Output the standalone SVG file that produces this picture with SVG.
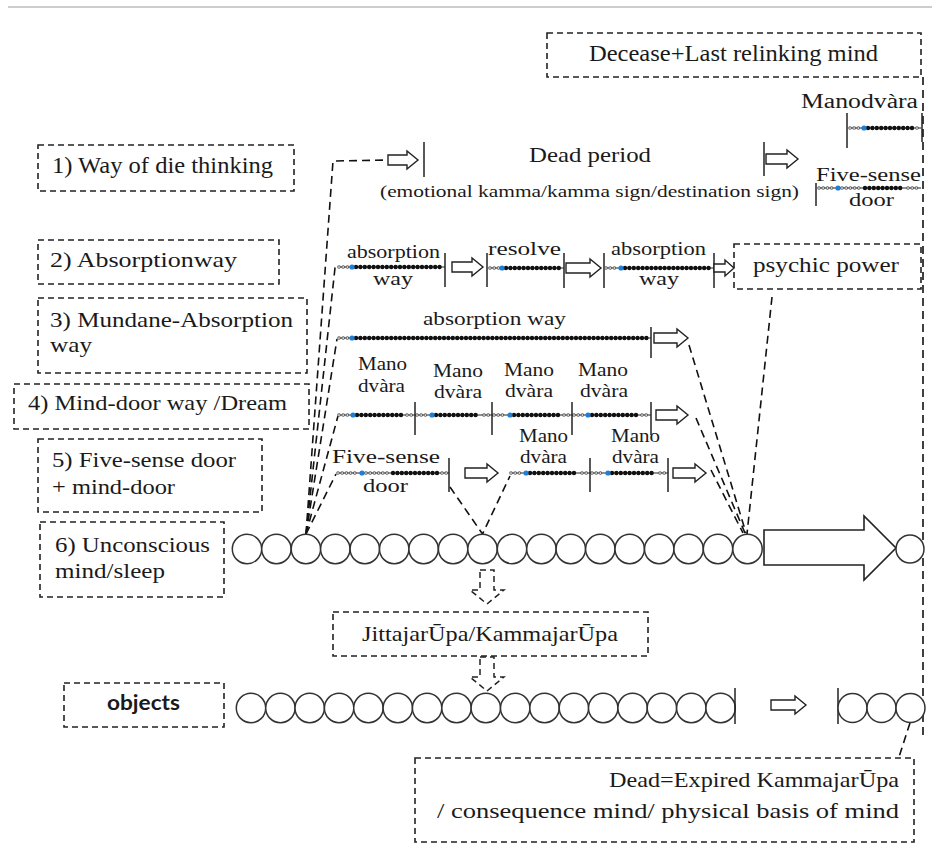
<svg xmlns="http://www.w3.org/2000/svg" width="932" height="851" viewBox="0 0 932 851">
<style>
.box{fill:none;stroke:#222;stroke-width:1.6;stroke-dasharray:6 4}
.t{font-family:"Liberation Serif","DejaVu Serif","Noto Serif",serif;fill:#1a1a1a}
.s{font-family:Lato,"Liberation Sans",sans-serif;fill:#1a1a1a;font-weight:bold}
.dash{fill:none;stroke:#111;stroke-width:1.6;stroke-dasharray:8 5}
.bar{stroke:#222;stroke-width:1.5}
.ha{fill:#fff;stroke:#222;stroke-width:1.4}
.hd{fill:none;stroke:#222;stroke-width:1.5;stroke-dasharray:6 4}
.c{fill:#fff;stroke:#333;stroke-width:1.5}
.thr{stroke:#222;stroke-width:1}
.ro{stroke:#555;stroke-width:3.6;stroke-dasharray:0 4.2;stroke-linecap:round}
.ri{stroke:#fff;stroke-width:1.7;stroke-dasharray:0 4.2;stroke-linecap:round}
.dt{stroke:#111;stroke-width:4.4;stroke-dasharray:0 4.4;stroke-linecap:round}
.bl{fill:#1e7fd6}
</style>
<rect width="932" height="851" fill="#fff"/>
<line x1="8" y1="7" x2="932" y2="7" stroke="#bdbdbd" stroke-width="1.5"/>

<g font-family="Liberation Serif, DejaVu Serif, serif">
<g id="n-decease"><rect class="box" x="547" y="33" width="374" height="44"/><text class="t" x="589" y="61" font-size="24" textLength="289" lengthAdjust="spacingAndGlyphs">Decease+Last relinking mind</text></g>
<g id="n-way1"><rect class="box" x="38" y="145" width="256" height="46"/><text class="t" x="52" y="173" font-size="23" textLength="221" lengthAdjust="spacingAndGlyphs">1) Way of die thinking</text></g>
<g id="n-way2"><rect class="box" x="38" y="240" width="241" height="44"/><text class="t" x="50" y="267" font-size="22" textLength="187" lengthAdjust="spacingAndGlyphs">2) Absorptionway</text></g>
<g id="n-way3"><rect class="box" x="38" y="298" width="269" height="75"/><text class="t" x="50" y="327" font-size="22" textLength="243" lengthAdjust="spacingAndGlyphs">3) Mundane-Absorption</text><text class="t" x="50" y="352" font-size="22" textLength="42" lengthAdjust="spacingAndGlyphs">way</text></g>
<g id="n-way4"><rect class="box" x="14" y="384" width="295" height="45"/><text class="t" x="28" y="410" font-size="22" textLength="259" lengthAdjust="spacingAndGlyphs">4) Mind-door way /Dream</text></g>
<g id="n-way5"><rect class="box" x="38" y="439" width="224" height="73"/><text class="t" x="52" y="467" font-size="22" textLength="184" lengthAdjust="spacingAndGlyphs">5) Five-sense door</text><text class="t" x="52" y="494" font-size="22" textLength="123" lengthAdjust="spacingAndGlyphs">+ mind-door</text></g>
<g id="n-way6"><rect class="box" x="40" y="522" width="184" height="75"/><text class="t" x="55" y="552" font-size="22" textLength="155" lengthAdjust="spacingAndGlyphs">6) Unconscious</text><text class="t" x="55" y="578" font-size="22" textLength="110" lengthAdjust="spacingAndGlyphs">mind/sleep</text></g>
<g id="n-psychic"><rect class="box" x="734" y="244" width="187" height="45"/><text class="t" x="753" y="272" font-size="22" textLength="146" lengthAdjust="spacingAndGlyphs">psychic power</text></g>
<g id="n-rupa"><rect class="box" x="333" y="612" width="315" height="44"/><text class="t" x="362" y="641" font-size="22" textLength="256" lengthAdjust="spacingAndGlyphs">JittajarŪpa/KammajarŪpa</text></g>
<g id="n-objects"><rect class="box" x="64" y="683" width="160" height="44"/><text class="s" x="107" y="710" font-size="20" textLength="73" lengthAdjust="spacingAndGlyphs">objects</text></g>
<g id="n-dead"><rect class="box" x="415" y="758" width="499" height="84"/><text class="t" x="609" y="787" font-size="22" textLength="290" lengthAdjust="spacingAndGlyphs">Dead=Expired KammajarŪpa</text><text class="t" x="437" y="818" font-size="22" textLength="462" lengthAdjust="spacingAndGlyphs">/ consequence mind/ physical basis of mind</text></g>

<g id="connectors">
<polyline class="dash" points="306,534 333,161 390,160"/>
<polyline class="dash" points="306,534 335,268 340,268"/>
<polyline class="dash" points="306,534 337,339"/>
<polyline class="dash" points="306,534 338,416"/>
<polyline class="dash" points="306,534 336,474"/>
<line class="dash" x1="772" y1="297" x2="747" y2="534"/>
<line class="dash" x1="689" y1="345" x2="746" y2="533"/>
<line class="dash" x1="696" y1="418" x2="745" y2="533"/>
<line class="dash" x1="711" y1="470" x2="743" y2="533"/>
<polyline class="dash" points="450,487 482.5,534 510,476"/>
<line class="dash" x1="923" y1="77" x2="923" y2="738"/>
<polyline class="dash" points="910,723 899,757"/>
<path class="hd" d="M480,570 H494 V590 H504 L487,604 L470,590 H480 Z"/>
<path class="hd" d="M480,657 H494 V677 H504 L487,691 L470,677 H480 Z"/>
</g>

<g id="row1">
<path class="ha" d="M388,155 H407 V151 L418,160 L407,169 V165 H388 Z"/>
<line class="bar" x1="424" y1="142" x2="424" y2="177"/>
<text class="t" x="529" y="162" font-size="22" textLength="122" lengthAdjust="spacingAndGlyphs">Dead period</text>
<text class="t" x="380" y="197" font-size="17" textLength="419" lengthAdjust="spacingAndGlyphs">(emotional kamma/kamma sign/destination sign)</text>
<line class="bar" x1="764" y1="142" x2="764" y2="176"/>
<path class="ha" d="M766,154 H787 V150 L798,159 L787,168 V164 H766 Z"/>
<text class="t" x="801" y="108" font-size="20" textLength="117" lengthAdjust="spacingAndGlyphs">Manodvàra</text>
<line class="bar" x1="847" y1="113" x2="847" y2="148"/>
<line class="bar" x1="922" y1="113" x2="922" y2="142"/>
<line class="thr" x1="849" y1="128" x2="921" y2="128"/>
<line class="ro" x1="850" y1="128" x2="861" y2="128"/><line class="ri" x1="850" y1="128" x2="861" y2="128"/>
<line class="dt" x1="868" y1="128" x2="914" y2="128"/>
<line class="ro" x1="917" y1="128" x2="921" y2="128"/><line class="ri" x1="917" y1="128" x2="921" y2="128"/>
<circle class="bl" cx="864" cy="128" r="2.6"/>
<text class="t" x="816" y="181" font-size="19" textLength="105" lengthAdjust="spacingAndGlyphs">Five-sense</text>
<text class="t" x="849" y="206" font-size="19" textLength="45" lengthAdjust="spacingAndGlyphs">door</text>
<line class="bar" x1="816" y1="183" x2="816" y2="206"/>
<line class="thr" x1="818" y1="188" x2="921" y2="188"/>
<line class="ro" x1="819" y1="188" x2="835" y2="188"/><line class="ri" x1="819" y1="188" x2="835" y2="188"/>
<line class="ro" x1="842" y1="188" x2="862" y2="188"/><line class="ri" x1="842" y1="188" x2="862" y2="188"/>
<line class="dt" x1="865" y1="188" x2="904" y2="188"/>
<line class="ro" x1="908" y1="188" x2="920" y2="188"/><line class="ri" x1="908" y1="188" x2="920" y2="188"/>
<circle class="bl" cx="838" cy="188" r="2.6"/>
</g>

<g id="row2">
<text class="t" x="347" y="258" font-size="18" textLength="93" lengthAdjust="spacingAndGlyphs">absorption</text>
<text class="t" x="373" y="285" font-size="18" textLength="40" lengthAdjust="spacingAndGlyphs">way</text>
<line class="thr" x1="338" y1="267" x2="445" y2="267"/>
<line class="ro" x1="339" y1="267" x2="349" y2="267"/><line class="ri" x1="339" y1="267" x2="349" y2="267"/>
<line class="dt" x1="356" y1="267" x2="444" y2="267"/>
<circle class="bl" cx="352" cy="267" r="2.6"/>
<line class="bar" x1="445" y1="253" x2="445" y2="287"/>
<path class="ha" d="M452,262 H472 V258 L483,267 L472,276 V272 H452 Z"/>
<line class="bar" x1="487" y1="253" x2="487" y2="287"/>
<text class="t" x="488" y="255" font-size="18" textLength="73" lengthAdjust="spacingAndGlyphs">resolve</text>
<line class="thr" x1="489" y1="268" x2="564" y2="268"/>
<line class="ro" x1="490" y1="268" x2="499" y2="268"/><line class="ri" x1="490" y1="268" x2="499" y2="268"/>
<line class="dt" x1="506" y1="268" x2="562" y2="268"/>
<circle class="bl" cx="502" cy="268" r="2.6"/>
<line class="bar" x1="564" y1="253" x2="564" y2="288"/>
<path class="ha" d="M566,263 H590 V259 L601,268 L590,277 V273 H566 Z"/>
<line class="bar" x1="604" y1="253" x2="604" y2="288"/>
<text class="t" x="611" y="255" font-size="18" textLength="95" lengthAdjust="spacingAndGlyphs">absorption</text>
<text class="t" x="639" y="285" font-size="18" textLength="40" lengthAdjust="spacingAndGlyphs">way</text>
<line class="thr" x1="605" y1="268" x2="714" y2="268"/>
<line class="ro" x1="606" y1="268" x2="617" y2="268"/><line class="ri" x1="606" y1="268" x2="617" y2="268"/>
<line class="dt" x1="625" y1="268" x2="712" y2="268"/>
<circle class="bl" cx="621" cy="268" r="2.6"/>
<line class="bar" x1="714" y1="253" x2="714" y2="288"/>
<path class="ha" d="M714,264 H725 V260 L734,268 L725,276 V272 H714 Z"/>
</g>

<g id="row3">
<text class="t" x="423" y="325" font-size="19" textLength="143" lengthAdjust="spacingAndGlyphs">absorption way</text>
<line class="thr" x1="338" y1="338" x2="651" y2="338"/>
<line class="ro" x1="339" y1="338" x2="349" y2="338"/><line class="ri" x1="339" y1="338" x2="349" y2="338"/>
<line class="dt" x1="356" y1="338" x2="649" y2="338"/>
<circle class="bl" cx="352" cy="338" r="2.6"/>
<line class="bar" x1="651" y1="327" x2="651" y2="358"/>
<path class="ha" d="M654,333 H677 V329 L688,338 L677,347 V343 H654 Z"/>
</g>

<g id="row4">
<text class="t" x="358" y="370" font-size="19" textLength="49" lengthAdjust="spacingAndGlyphs">Mano</text>
<text class="t" x="358" y="392" font-size="19" textLength="47" lengthAdjust="spacingAndGlyphs">dvàra</text>
<text class="t" x="433" y="377" font-size="19" textLength="50" lengthAdjust="spacingAndGlyphs">Mano</text>
<text class="t" x="434" y="398" font-size="19" textLength="48" lengthAdjust="spacingAndGlyphs">dvàra</text>
<text class="t" x="504" y="376" font-size="19" textLength="50" lengthAdjust="spacingAndGlyphs">Mano</text>
<text class="t" x="505" y="397" font-size="19" textLength="48" lengthAdjust="spacingAndGlyphs">dvàra</text>
<text class="t" x="578" y="376" font-size="19" textLength="50" lengthAdjust="spacingAndGlyphs">Mano</text>
<text class="t" x="580" y="397" font-size="19" textLength="48" lengthAdjust="spacingAndGlyphs">dvàra</text>
<line class="thr" x1="338" y1="415" x2="651" y2="415"/>
<line class="ro" x1="339" y1="415" x2="349" y2="415"/><line class="ri" x1="339" y1="415" x2="349" y2="415"/>
<line class="dt" x1="357" y1="415" x2="403" y2="415"/>
<line class="ro" x1="407" y1="415" x2="413" y2="415"/><line class="ri" x1="407" y1="415" x2="413" y2="415"/>
<line class="ro" x1="417" y1="415" x2="428" y2="415"/><line class="ri" x1="417" y1="415" x2="428" y2="415"/>
<line class="dt" x1="436" y1="415" x2="480" y2="415"/>
<line class="ro" x1="484" y1="415" x2="490" y2="415"/><line class="ri" x1="484" y1="415" x2="490" y2="415"/>
<line class="ro" x1="494" y1="415" x2="506" y2="415"/><line class="ri" x1="494" y1="415" x2="506" y2="415"/>
<line class="dt" x1="514" y1="415" x2="560" y2="415"/>
<line class="ro" x1="564" y1="415" x2="570" y2="415"/><line class="ri" x1="564" y1="415" x2="570" y2="415"/>
<line class="ro" x1="574" y1="415" x2="585" y2="415"/><line class="ri" x1="574" y1="415" x2="585" y2="415"/>
<line class="dt" x1="592" y1="415" x2="638" y2="415"/>
<line class="ro" x1="642" y1="415" x2="650" y2="415"/><line class="ri" x1="642" y1="415" x2="650" y2="415"/>
<circle class="bl" cx="353" cy="415" r="2.6"/>
<circle class="bl" cx="432" cy="415" r="2.6"/>
<circle class="bl" cx="510" cy="415" r="2.6"/>
<circle class="bl" cx="588" cy="415" r="2.6"/>
<line class="bar" x1="415" y1="402" x2="415" y2="435"/>
<line class="bar" x1="492" y1="402" x2="492" y2="435"/>
<line class="bar" x1="572" y1="402" x2="572" y2="435"/>
<line class="bar" x1="651" y1="402" x2="651" y2="435"/>
<path class="ha" d="M656,410 H677 V406 L688,415 L677,424 V420 H656 Z"/>
</g>

<g id="row5">
<text class="t" x="332" y="463" font-size="19" textLength="108" lengthAdjust="spacingAndGlyphs">Five-sense</text>
<text class="t" x="363" y="492" font-size="19" textLength="45" lengthAdjust="spacingAndGlyphs">door</text>
<text class="t" x="519" y="442" font-size="19" textLength="49" lengthAdjust="spacingAndGlyphs">Mano</text>
<text class="t" x="520" y="463" font-size="19" textLength="47" lengthAdjust="spacingAndGlyphs">dvàra</text>
<text class="t" x="611" y="442" font-size="19" textLength="49" lengthAdjust="spacingAndGlyphs">Mano</text>
<text class="t" x="612" y="463" font-size="19" textLength="47" lengthAdjust="spacingAndGlyphs">dvàra</text>
<line class="thr" x1="337" y1="473" x2="449" y2="473"/>
<line class="ro" x1="338" y1="473" x2="358" y2="473"/><line class="ri" x1="338" y1="473" x2="358" y2="473"/>
<line class="ro" x1="366" y1="473" x2="390" y2="473"/><line class="ri" x1="366" y1="473" x2="390" y2="473"/>
<line class="dt" x1="393" y1="473" x2="438" y2="473"/>
<line class="ro" x1="442" y1="473" x2="448" y2="473"/><line class="ri" x1="442" y1="473" x2="448" y2="473"/>
<circle class="bl" cx="362" cy="473" r="2.6"/>
<line class="bar" x1="449" y1="458" x2="449" y2="492"/>
<path class="ha" d="M465,468 H487 V464 L498,473 L487,482 V478 H465 Z"/>
<line class="thr" x1="510" y1="473" x2="668" y2="473"/>
<line class="ro" x1="511" y1="473" x2="522" y2="473"/><line class="ri" x1="511" y1="473" x2="522" y2="473"/>
<line class="dt" x1="530" y1="473" x2="578" y2="473"/>
<line class="ro" x1="582" y1="473" x2="588" y2="473"/><line class="ri" x1="582" y1="473" x2="588" y2="473"/>
<line class="ro" x1="592" y1="473" x2="604" y2="473"/><line class="ri" x1="592" y1="473" x2="604" y2="473"/>
<line class="dt" x1="612" y1="473" x2="656" y2="473"/>
<line class="ro" x1="660" y1="473" x2="666" y2="473"/><line class="ri" x1="660" y1="473" x2="666" y2="473"/>
<circle class="bl" cx="526" cy="473" r="2.6"/>
<circle class="bl" cx="608" cy="473" r="2.6"/>
<line class="bar" x1="590" y1="458" x2="590" y2="492"/>
<line class="bar" x1="668" y1="458" x2="668" y2="492"/>
<path class="ha" d="M673,468 H695 V464 L706,473 L695,482 V478 H673 Z"/>
</g>

<g id="row6">
<circle class="c" cx="247" cy="549" r="14.7"/><circle class="c" cx="276.4" cy="549" r="14.7"/><circle class="c" cx="305.9" cy="549" r="14.7"/><circle class="c" cx="335.3" cy="549" r="14.7"/><circle class="c" cx="364.8" cy="549" r="14.7"/><circle class="c" cx="394.2" cy="549" r="14.7"/><circle class="c" cx="423.6" cy="549" r="14.7"/><circle class="c" cx="453.1" cy="549" r="14.7"/><circle class="c" cx="482.5" cy="549" r="14.7"/><circle class="c" cx="512" cy="549" r="14.7"/><circle class="c" cx="541.4" cy="549" r="14.7"/><circle class="c" cx="570.8" cy="549" r="14.7"/><circle class="c" cx="600.3" cy="549" r="14.7"/><circle class="c" cx="629.7" cy="549" r="14.7"/><circle class="c" cx="659.2" cy="549" r="14.7"/><circle class="c" cx="688.6" cy="549" r="14.7"/><circle class="c" cx="718" cy="549" r="14.7"/><circle class="c" cx="747.5" cy="549" r="14.7"/>
<path fill="#fff" stroke="#222" stroke-width="1.6" d="M764,530 H864 V516 L896,548 L864,580 V565 H764 Z"/>
<circle class="c" cx="910" cy="549" r="14"/>
</g>

<g id="row-objects">
<circle class="c" cx="251" cy="708" r="14.7"/><circle class="c" cx="280.4" cy="708" r="14.7"/><circle class="c" cx="309.7" cy="708" r="14.7"/><circle class="c" cx="339.1" cy="708" r="14.7"/><circle class="c" cx="368.4" cy="708" r="14.7"/><circle class="c" cx="397.8" cy="708" r="14.7"/><circle class="c" cx="427.1" cy="708" r="14.7"/><circle class="c" cx="456.5" cy="708" r="14.7"/><circle class="c" cx="485.8" cy="708" r="14.7"/><circle class="c" cx="515.2" cy="708" r="14.7"/><circle class="c" cx="544.5" cy="708" r="14.7"/><circle class="c" cx="573.9" cy="708" r="14.7"/><circle class="c" cx="603.2" cy="708" r="14.7"/><circle class="c" cx="632.6" cy="708" r="14.7"/><circle class="c" cx="661.9" cy="708" r="14.7"/><circle class="c" cx="691.3" cy="708" r="14.7"/><circle class="c" cx="720.6" cy="708" r="14.7"/>
<line class="bar" x1="735" y1="688" x2="735" y2="724"/>
<path class="ha" d="M771,700 H795 V696 L806,705 L795,714 V710 H771 Z"/>
<line class="bar" x1="838" y1="688" x2="838" y2="724"/>
<circle class="c" cx="852.5" cy="708" r="14.5"/><circle class="c" cx="881.5" cy="708" r="14.5"/><circle class="c" cx="910.5" cy="708" r="14.5"/>
</g>
</g>
</svg>
